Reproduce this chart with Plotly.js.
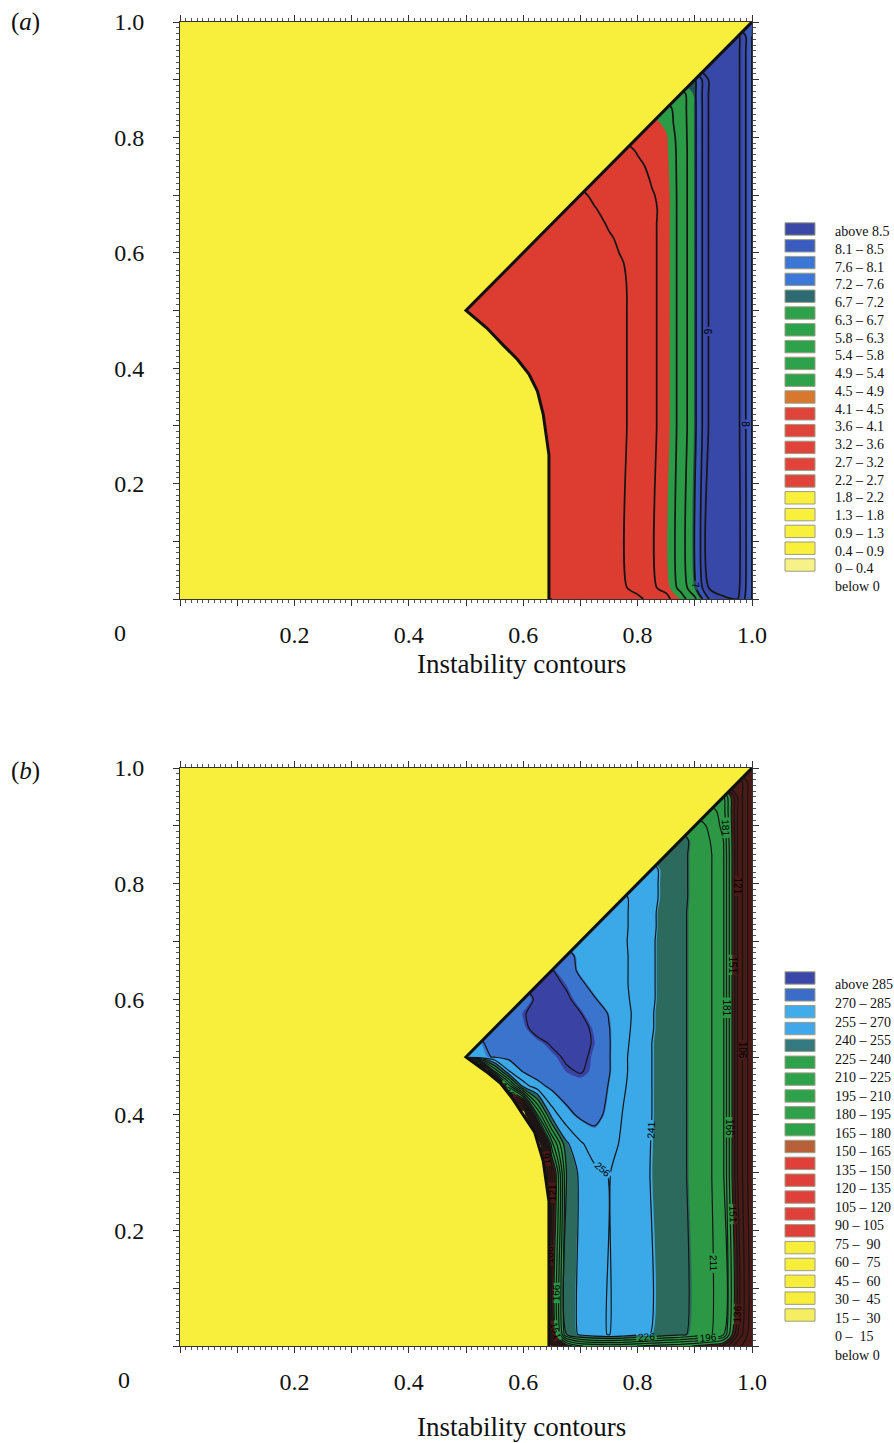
<!DOCTYPE html>
<html><head><meta charset="utf-8">
<script src="https://cdn.plot.ly/plotly-3.0.1.min.js"></script>
<style>html,body{margin:0;padding:0;background:#fff}#chart{width:894px;height:1443px}</style>
</head><body><div id="chart"></div>
<script>
// ---- grid of the computed field (x = 0.5 .. 1.0, y rows) ----
const gridX = [0.5,0.525,0.55,0.575,0.6,0.625,0.65,0.675,0.7,0.725,0.75,0.775,0.8,0.825,0.85,0.875,0.9,0.925,0.95,0.975,1.0];
const gridY = [0,0.02,0.3,0.35,0.4,0.45,0.475,0.5,0.525,0.55,0.575,0.6,0.625,0.65,0.675,0.7,0.725,0.75,0.775,0.8,0.825,0.85,0.875,0.9,0.925,0.95,0.975,1.0];

// ---- (a) instability values (cells left of the domain edge repeat the edge value) ----
const zA = [
 [2.0,2.0,2.0,2.0,2.0,2.0,2.0,2.1,2.2,2.3,2.4,2.5,2.8,3.3,3.8,4.5,5.8,8.0,8.9,9.0,7.0],
 [2.3,2.3,2.3,2.3,2.3,2.3,2.3,2.4,2.5,2.6,2.75,2.9,3.3,3.9,4.2,5.3,6.8,9.1,9.3,9.3,7.0],
 [2.3,2.3,2.3,2.3,2.3,2.3,2.3,2.4,2.5,2.6,2.75,2.9,3.3,3.9,4.2,5.3,6.8,9.1,9.3,9.3,7.0],
 [2.2,2.2,2.2,2.2,2.2,2.2,2.3,2.4,2.5,2.6,2.75,2.9,3.3,3.9,4.2,5.3,6.8,9.1,9.3,9.3,7.0],
 [2.2,2.2,2.2,2.2,2.2,2.25,2.3,2.4,2.5,2.6,2.75,2.9,3.3,3.9,4.2,5.3,6.8,9.1,9.3,9.3,7.0],
 [2.2,2.2,2.2,2.2,2.25,2.3,2.35,2.4,2.5,2.6,2.75,2.9,3.3,3.9,4.2,5.3,6.8,9.1,9.3,9.3,7.0],
 [2.2,2.2,2.2,2.2,2.25,2.3,2.35,2.4,2.5,2.6,2.75,2.9,3.3,3.9,4.2,5.3,6.8,9.1,9.3,9.3,7.0],
 [2.2,2.2,2.2,2.25,2.3,2.35,2.4,2.45,2.5,2.6,2.75,2.9,3.3,3.9,4.2,5.3,6.8,9.1,9.3,9.3,7.0],
 [2.2,2.2,2.25,2.3,2.35,2.4,2.45,2.5,2.55,2.65,2.75,2.9,3.3,3.9,4.2,5.3,6.8,9.1,9.3,9.3,7.0],
 [2.25,2.25,2.25,2.3,2.35,2.4,2.45,2.5,2.6,2.7,2.8,2.92,3.3,3.9,4.2,5.3,6.8,9.1,9.3,9.3,7.0],
 [2.3,2.3,2.3,2.3,2.35,2.4,2.5,2.55,2.65,2.75,2.85,2.97,3.3,3.9,4.2,5.3,6.8,9.1,9.3,9.3,7.0],
 [2.35,2.35,2.35,2.35,2.35,2.45,2.55,2.6,2.7,2.8,2.88,3.05,3.35,3.9,4.2,5.3,6.8,9.1,9.3,9.3,7.0],
 [2.5,2.5,2.5,2.5,2.5,2.5,2.6,2.7,2.8,2.88,2.95,3.1,3.4,3.9,4.2,5.3,6.8,9.1,9.3,9.3,7.0],
 [2.6,2.6,2.6,2.6,2.6,2.6,2.6,2.7,2.8,2.85,3.05,3.25,3.5,3.9,4.2,5.3,6.8,9.1,9.3,9.3,7.0],
 [2.75,2.75,2.75,2.75,2.75,2.75,2.75,2.75,2.85,2.97,3.15,3.3,3.5,3.88,4.2,5.3,6.8,9.1,9.3,9.3,7.0],
 [2.9,2.9,2.9,2.9,2.9,2.9,2.9,2.9,2.9,3.1,3.25,3.4,3.6,3.95,4.2,5.3,6.8,9.1,9.3,9.3,7.0],
 [3.15,3.15,3.15,3.15,3.15,3.15,3.15,3.15,3.15,3.15,3.35,3.5,3.7,4.05,4.25,5.3,6.8,9.1,9.3,9.3,7.0],
 [3.4,3.4,3.4,3.4,3.4,3.4,3.4,3.4,3.4,3.4,3.4,3.55,3.85,4.15,4.3,5.3,6.8,9.1,9.3,9.3,7.0],
 [3.7,3.7,3.7,3.7,3.7,3.7,3.7,3.7,3.7,3.7,3.7,3.7,4.05,4.2,4.35,5.3,6.8,9.1,9.3,9.3,7.0],
 [4.1,4.1,4.1,4.1,4.1,4.1,4.1,4.1,4.1,4.1,4.1,4.1,4.1,4.25,4.4,5.35,6.8,9.1,9.3,9.3,7.0],
 [4.3,4.3,4.3,4.3,4.3,4.3,4.3,4.3,4.3,4.3,4.3,4.3,4.3,4.3,4.6,5.4,6.8,9.1,9.3,9.3,7.0],
 [4.7,4.7,4.7,4.7,4.7,4.7,4.7,4.7,4.7,4.7,4.7,4.7,4.7,4.7,4.7,5.45,6.8,9.1,9.3,9.3,7.0],
 [5.5,5.5,5.5,5.5,5.5,5.5,5.5,5.5,5.5,5.5,5.5,5.5,5.5,5.5,5.5,5.5,6.85,9.1,9.3,9.3,7.0],
 [6.9,6.9,6.9,6.9,6.9,6.9,6.9,6.9,6.9,6.9,6.9,6.9,6.9,6.9,6.9,6.9,6.9,9.1,9.3,9.3,7.0],
 [9.1,9.1,9.1,9.1,9.1,9.1,9.1,9.1,9.1,9.1,9.1,9.1,9.1,9.1,9.1,9.1,9.1,9.1,9.3,9.3,7.0],
 [9.3,9.3,9.3,9.3,9.3,9.3,9.3,9.3,9.3,9.3,9.3,9.3,9.3,9.3,9.3,9.3,9.3,9.3,9.3,9.3,7.0],
 [9.3,9.3,9.3,9.3,9.3,9.3,9.3,9.3,9.3,9.3,9.3,9.3,9.3,9.3,9.3,9.3,9.3,9.3,9.3,9.3,7.0],
 [7.2,7.2,7.2,7.2,7.2,7.2,7.2,7.2,7.2,7.2,7.2,7.2,7.2,7.2,7.2,7.2,7.2,7.2,7.2,7.2,7.2]
];

// ---- (b) values (cells left of the domain edge repeat the edge value) ----
const zB = [
 [10,10,10,10,10,10,60,140,165,170,172,170,166,162,158,155,150,143,132,95,80],
 [20,20,20,20,20,20,120,225,245,253,256.5,252,246,240.2,234,229,222,214,198,120,78],
 [20,20,20,20,20,20,120,225,245,253,256.5,252,246,240.2,234,229,222,214,198,120,78],
 [30,30,30,30,30,30,175,238,254,263,262,253,246,240.5,234,229,222,214,198,120,78],
 [30,30,30,30,30,180,248,266,274,276,267,255,247,241,234,229,222,214,198,120,78],
 [30,30,30,175,248,266,275,280,283,282,270,258,248,241,234,229,222,214,198,120,78],
 [30,30,195,255,272,278,282,285,286.5,284,272,259,249,241,234,229,222,214,198,120,78],
 [262,268,272,275,278,281,284,287,288,284,272,259,249,241,234,229,222,214,198,120,78],
 [270,270,274,278,281,284,287,289,289,285,272,260,250,241,234,229,222,214,198,120,78],
 [274,274,274,279,284,289,290,290,289,284,271.5,261,251,242,234,229,222,214,198,120,78],
 [277,277,277,277,285.5,288,290,289,286.5,280,270,261,252,242,234,229,222,214,198,120,78],
 [281,281,281,281,281,288,290,288,282,272,264,259,252,243,234,229,222,214,198,120,78],
 [287,287,287,287,287,287,289,285,274,266,261,258,252,243,234,229,222,214,198,120,78],
 [287,287,287,287,287,287,287,278,268,262,259,258,252,243,234,229,222,214,198,120,78],
 [276,276,276,276,276,276,276,276,267,261,258,258,252,243,234,229,222,214,198,120,78],
 [266,266,266,266,266,266,266,266,266,260,258,257.5,252,243,234,229,222,214,198,120,78],
 [262,262,262,262,262,262,262,262,262,262,258,258,252,244,234,229,222,214,198,120,78],
 [259,259,259,259,259,259,259,259,259,259,259,258,252,244,234,229,222,214,198,120,78],
 [258,258,258,258,258,258,258,258,258,258,258,258,252,244,237,230,222,214,198,120,78],
 [253,253,253,253,253,253,253,253,253,253,253,253,253,244,237,230,222,214,198,120,78],
 [244,244,244,244,244,244,244,244,244,244,244,244,244,244,237,230,222,214,198,120,78],
 [237,237,237,237,237,237,237,237,237,237,237,237,237,237,237,230,222,214,198,120,78],
 [231,231,231,231,231,231,231,231,231,231,231,231,231,231,231,231,222,212,196,120,78],
 [222,222,222,222,222,222,222,222,222,222,222,222,222,222,222,222,222,208,192,120,78],
 [205,205,205,205,205,205,205,205,205,205,205,205,205,205,205,205,205,205,188,120,78],
 [185,185,185,185,185,185,185,185,185,185,185,185,185,185,185,185,185,185,185,120,78],
 [120,120,120,120,120,120,120,120,120,120,120,120,120,120,120,120,120,120,120,120,78],
 [78,78,78,78,78,78,78,78,78,78,78,78,78,78,78,78,78,78,78,78,78]
];

// ---- domain boundary (edge of the computed region) ----
const boundaryXA = [0.645,0.645,0.635,0.625,0.61,0.59,0.565,0.536,0.5,1.0];
const boundaryYA = [0,0.25,0.32,0.36,0.39,0.415,0.44,0.47,0.5,1.0];
const boundaryXB = [0.645,0.645,0.635,0.62,0.6,0.58,0.56,0.535,0.5,1.0];
const boundaryYB = [0,0.25,0.32,0.37,0.4,0.43,0.455,0.475,0.5,1.0];

// ---- legend labels / colours ----
const legendLabelsA = ['above 8.5','8.1 – 8.5','7.6 – 8.1','7.2 – 7.6','6.7 – 7.2','6.3 – 6.7','5.8 – 6.3','5.4 – 5.8','4.9 – 5.4','4.5 – 4.9','4.1 – 4.5','3.6 – 4.1','3.2 – 3.6','2.7 – 3.2','2.2 – 2.7','1.8 – 2.2','1.3 – 1.8','0.9 – 1.3','0.4 – 0.9','0 – 0.4','below 0'];
const legendLabelsB = ['above 285','270 – 285','255 – 270','240 – 255','225 – 240','210 – 225','195 – 210','180 – 195','165 – 180','150 – 165','135 – 150','120 – 135','105 – 120','90 – 105','75 –  90','60 –  75','45 –  60','30 –  45','15 –  30','0 –  15','below 0'];
const legendColorsA = ['#3a48a8','#3a5cc0','#3c76d6','#3c78d8','#2e6a72','#2ea24a','#2ea24a','#2ea24a','#2ea24a','#2ea24a','#d8782e','#e0433a','#e0433a','#e0433a','#e0433a','#e0433a','#f8f03a','#f8f03a','#f8f03a','#f8f03a','#f6f288'];
const legendColorsB = ['#3a46a8','#3a6cc8','#40acec','#40a8ea','#357a80','#2ea24a','#2ea24a','#2ea24a','#2ea24a','#2ea24a','#b8603a','#e0403a','#e0403a','#e0403a','#e0403a','#e0403a','#f6ee3a','#f6ee3a','#f6ee3a','#f6ee3a','#f4ee60'];

// fill colours per contour band (below first level ... above last level)
const fillColorsA = ['#f4f07c','#f7ef3b','#f7ef3b','#f7ef3b','#f7ef3b','#dd3c30','#dd3c30','#dd3c30','#dd3c30','#dd3c30','#dd3c30','#2c9b46','#2c9b46','#2c9b46','#2c9b46','#2c9b46','#22505a','#3a58bc','#3a52b4','#3a4cae','#3848a8'];
const fillColorsB = ['#f4f07c','#f7ef3b','#f7ef3b','#f7ef3b','#f7ef3b','#4a1a16','#4a1a16','#4a1a16','#4a1a16','#4a1a16','#4a1a16','#2c9846','#2c9846','#2c9846','#2c9846','#2c9846','#2d6a5e','#3ba8e8','#3ba8e8','#3a74cc','#3a42a4'];

const tickVals = [0,0.1,0.2,0.3,0.4,0.5,0.6,0.7,0.8,0.9,1.0];
const tickText = ['','','0.2','','0.4','','0.6','','0.8','','1.0'];

const W = 894, H = 1443;
const YELLOW = '#f7ef3b';

function scale(cols){ return cols.map((c,i)=>[i/(cols.length-1), c]); }

function panelTraces(z, xa, ya, fillCols, lev, lineLev, lineW, bx, by){
  const polyX = bx.concat([0,0,bx[0]]);
  const polyY = by.concat([1,0,by[0]]);
  return [
    {type:'contour', x:gridX, y:gridY, z:z, xaxis:xa, yaxis:ya, autocontour:false,
     contours:{coloring:'fill', showlines:false, start:lev[0], end:lev[1], size:lev[2]},
     colorscale:scale(fillCols), showscale:false, line:{width:0, smoothing:0.7}, hoverinfo:'skip'},
    {type:'contour', x:gridX, y:gridY, z:z, xaxis:xa, yaxis:ya, autocontour:false,
     contours:{coloring:'none', start:lineLev[0], end:lineLev[1], size:lineLev[2], showlabels:true,
               labelfont:{family:'Liberation Sans', size:10, color:'#000'}},
     line:{color:'#151515', width:lineW, smoothing:0.7}, showscale:false, hoverinfo:'skip'},
    {type:'scatter', mode:'lines', x:polyX, y:polyY, xaxis:xa, yaxis:ya, fill:'toself',
     fillcolor:YELLOW, line:{width:0}, hoverinfo:'skip', showlegend:false},
    {type:'scatter', mode:'lines', x:bx, y:by, xaxis:xa, yaxis:ya,
     line:{color:'#111', width:3}, hoverinfo:'skip', showlegend:false}
  ];
}

const traces = [].concat(
  panelTraces(zA,'x','y',fillColorsA,[0,8.5,8.5/19],[0,9,1],1.7,boundaryXA,boundaryYA),
  panelTraces(zB,'x2','y2',fillColorsB,[0,285,15],[1,286,15],1.2,boundaryXB,boundaryYB)
);

const serif = 'Liberation Serif, Times New Roman, serif';
function axis(extra){
  return Object.assign({range:[0,1], tickmode:'array', tickvals:tickVals, ticktext:tickText,
    ticks:'outside', ticklen:6, tickwidth:1, tickcolor:'#333', showline:true, linecolor:'#333', linewidth:1,
    mirror:'ticks', showgrid:false, zeroline:false, fixedrange:true,
    tickfont:{family:serif, size:24, color:'#111'},
    minor:{tickmode:'linear', tick0:0, dtick:0.01, ticks:'outside', ticklen:3, tickcolor:'#555', tickwidth:1, showgrid:false}
  }, extra);
}
const xDom = [180/W, 752/W];
const layout = {
  width:W, height:H, margin:{l:0,r:0,t:0,b:0}, paper_bgcolor:'#fff', plot_bgcolor:YELLOW, showlegend:false,
  xaxis: axis({domain:xDom, anchor:'y', ticklabelstandoff:8}),
  yaxis: axis({domain:[1-599/H, 1-22/H], anchor:'x', ticklabelstandoff:24}),
  xaxis2: axis({domain:xDom, anchor:'y2', ticklabelstandoff:8}),
  yaxis2: axis({domain:[1-1346/H, 1-768/H], anchor:'x2', ticklabelstandoff:24}),
  annotations:[], shapes:[]
};

function px(xp, yp){ return {x:xp/W, y:1-yp/H}; }
function addText(text, xp, yp, size, anchor){
  const p = px(xp, yp);
  layout.annotations.push({xref:'paper', yref:'paper', x:p.x, y:p.y, text:text, showarrow:false,
    xanchor:anchor||'center', yanchor:'middle', font:{family:serif, size:size, color:'#111'}});
}
addText('(<i>a</i>)', 25, 22, 25);
addText('(<i>b</i>)', 25, 771, 25);
addText('0', 120, 633, 24);
addText('0', 124, 1380, 24);
addText('Instability contours', 521, 664, 27);
addText('Instability contours', 521, 1427, 27);

function addLegend(labels, colors, boxTop, boxPitch, labTop, labPitch){
  for(let i=0;i<labels.length;i++){
    const cy = boxTop + boxPitch*i;
    layout.shapes.push({type:'rect', xref:'paper', yref:'paper', x0:785/W, x1:815/W,
      y0:1-(cy+6.2)/H, y1:1-(cy-6.2)/H, fillcolor:colors[i], line:{color:'#9c9c84', width:1}});
    const p = px(833, labTop + labPitch*i);
    layout.annotations.push({xref:'paper', yref:'paper', x:p.x, y:p.y, text:labels[i], showarrow:false,
      xanchor:'left', yanchor:'middle', font:{family:serif, size:14, color:'#111'}});
  }
}
addLegend(legendLabelsA, legendColorsA, 229, 16.8, 231.7, 17.75);
addLegend(legendLabelsB, legendColorsB, 978, 16.85, 985, 18.5);

Plotly.newPlot('chart', traces, layout, {staticPlot:true, displayModeBar:false});
</script>
</body></html>
